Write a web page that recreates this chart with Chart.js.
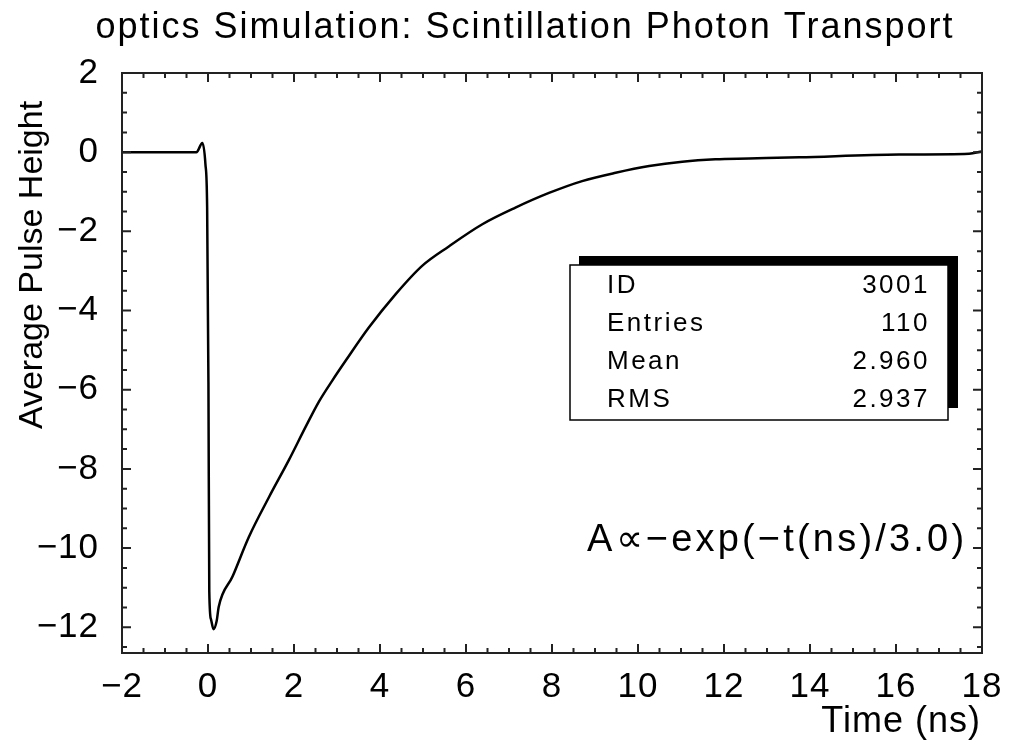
<!DOCTYPE html>
<html>
<head>
<meta charset="utf-8">
<script src="https://cdn.jsdelivr.net/npm/chart.js@4"></script>
<style>
  body { margin: 0; background: #fff; }
</style>
</head>
<body>
<canvas id="pulse" width="1013" height="752"></canvas>
<script>
// average pulse shape
const times = [-2.0, -0.3, -0.27, -0.13, -0.06, -0.02, 0.01, 0.03, 0.07, 0.13, 0.2, 0.25,
  0.57, 0.95, 1.42, 1.88, 2.27, 2.58, 2.89, 3.2, 3.74, 4.36, 4.98, 5.6, 6.38, 7.15,
  7.93, 8.7, 9.48, 10.26, 11.03, 11.8, 12.58, 13.75, 16.07, 17.7, 18.0];
const heights = [0, 0, 0, 0.23, -0.3, -1.4, -5.8, -11.1, -11.8, -12.05, -11.85, -11.48,
  -10.72, -9.72, -8.71, -7.78, -6.94, -6.3, -5.77, -5.27, -4.43, -3.59, -2.87, -2.38, -1.82, -1.4,
  -1.03, -0.73, -0.52, -0.35, -0.24, -0.18, -0.16, -0.13, -0.06, -0.04, 0.02];

const xTicks = [-2, 0, 2, 4, 6, 8, 10, 12, 14, 16, 18];
const yTicks = [2, 0, -2, -4, -6, -8, -10, -12];
const statLabels = ['ID', 'Entries', 'Mean', 'RMS'];
const statValues = ['3001', '110', '2.960', '2.937'];

const FONT = '"Liberation Sans", Arial, sans-serif';
const fmt = v => v < 0 ? '\u2212' + Math.abs(v) : String(v);

// frame, inward ticks on all four sides, labels and the stats box
const frame = {
  id: 'frame',
  afterDatasetsDraw(chart) {
    const { ctx, chartArea: a, scales: { x, y } } = chart;
    ctx.save();
    ctx.strokeStyle = '#222';
    ctx.lineWidth = 2;
    ctx.strokeRect(a.left, a.top, a.right - a.left, a.bottom - a.top);

    ctx.beginPath();
    for (let i = 0; i <= 40; i++) {
      const v = -2 + i * 0.5;
      const px = x.getPixelForValue(v);
      const len = i % 4 === 0 ? 9 : 5;
      ctx.moveTo(px, a.bottom); ctx.lineTo(px, a.bottom - len);
      ctx.moveTo(px, a.top); ctx.lineTo(px, a.top + len);
    }
    for (let i = 0; i <= 29; i++) {
      const v = -12.5 + i * 0.5;
      const py = y.getPixelForValue(v);
      const len = (i - 1) % 4 === 0 ? 9 : 5;
      ctx.moveTo(a.left, py); ctx.lineTo(a.left + len, py);
      ctx.moveTo(a.right, py); ctx.lineTo(a.right - len, py);
    }
    ctx.stroke();

    ctx.fillStyle = '#000';
    ctx.font = '35px ' + FONT;
    ctx.textBaseline = 'middle';
    ctx.letterSpacing = '1px';
    ctx.textAlign = 'center';
    xTicks.forEach(v => ctx.fillText(fmt(v), x.getPixelForValue(v), 687));
    ctx.textAlign = 'right';
    yTicks.forEach(v => ctx.fillText(fmt(v), 99, y.getPixelForValue(v)));

    // titles
    ctx.font = '36px ' + FONT;
    ctx.letterSpacing = '2px';
    ctx.textAlign = 'center';
    ctx.fillText('optics Simulation: Scintillation Photon Transport', 525, 28);
    ctx.letterSpacing = '1px';
    ctx.textAlign = 'right';
    ctx.fillText('Time (ns)', 981, 722);
    ctx.save();
    ctx.translate(33, 265);
    ctx.rotate(-Math.PI / 2);
    ctx.textAlign = 'center';
    ctx.font = '34px ' + FONT;
    ctx.letterSpacing = '0px';
    ctx.fillText('Average Pulse Height', 0, 0);
    ctx.restore();

    // stats box with shadow
    ctx.fillRect(579, 256, 379, 152);
    ctx.fillStyle = '#fff';
    ctx.fillRect(570, 265, 378, 155);
    ctx.strokeStyle = '#000';
    ctx.lineWidth = 1.5;
    ctx.strokeRect(570, 265, 378, 155);
    ctx.fillStyle = '#000';
    ctx.font = '26px ' + FONT;
    ctx.letterSpacing = '2.5px';
    statLabels.forEach((s, i) => {
      const ty = 286 + i * 38;
      ctx.textAlign = 'left';
      ctx.fillText(s, 607, ty);
      ctx.textAlign = 'right';
      ctx.fillText(statValues[i], 930, ty);
    });

    ctx.font = '38px ' + FONT;
    ctx.letterSpacing = '3.2px';
    ctx.textAlign = 'left';
    ctx.fillText('A\u221D\u2212exp(\u2212t(ns)/3.0)', 587, 541);
    ctx.restore();
  }
};

new Chart(document.getElementById('pulse'), {
  type: 'scatter',
  data: {
    datasets: [{
      data: times.map((t, i) => ({ x: t, y: heights[i] })),
      showLine: true,
      borderColor: '#000',
      borderWidth: 2.5,
      pointRadius: 0,
      cubicInterpolationMode: 'monotone'
    }]
  },
  options: {
    responsive: false,
    animation: false,
    layout: { padding: { left: 122, top: 73, right: 31, bottom: 99 } },
    scales: {
      x: { type: 'linear', min: -2, max: 18, display: false },
      y: { type: 'linear', min: -12.65, max: 2, display: false }
    },
    plugins: { legend: { display: false }, tooltip: { enabled: false } }
  },
  plugins: [frame]
});
</script>
</body>
</html>
